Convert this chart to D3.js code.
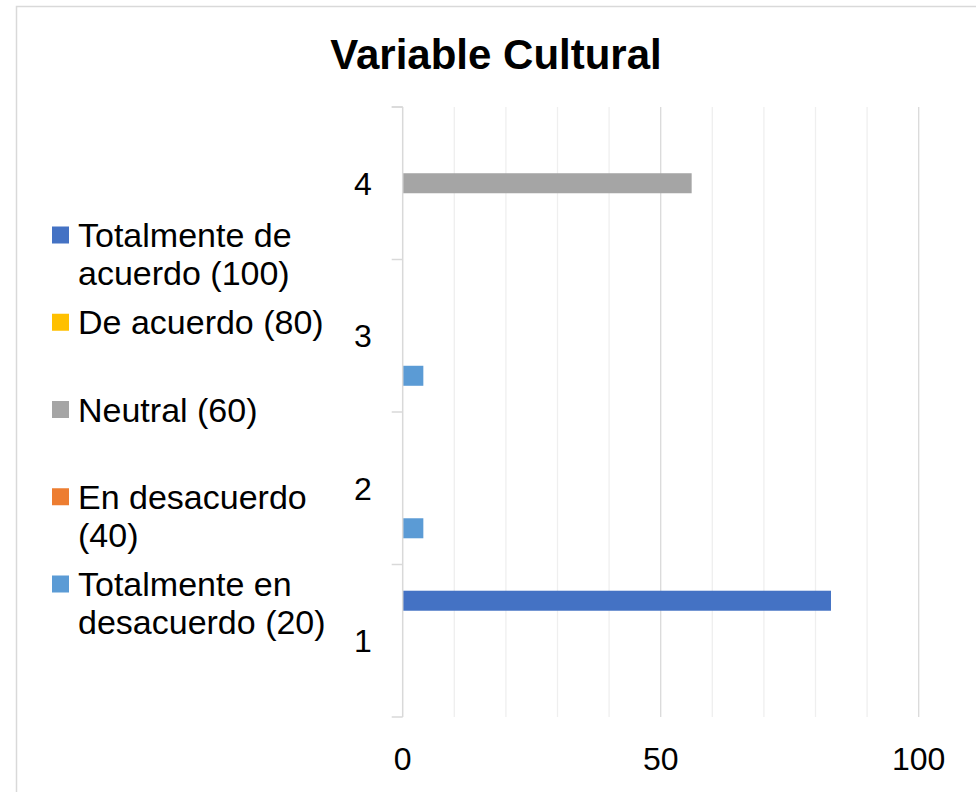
<!DOCTYPE html>
<html>
<head>
<meta charset="utf-8">
<script src="https://cdn.jsdelivr.net/npm/d3@7"></script>
<style>
  body { margin: 0; background: #fff; }
  svg text { font-family: "Liberation Sans", Arial, sans-serif; fill: #000; }
</style>
</head>
<body>
<div id="chart"></div>
<script>
// categorias (eje vertical), de abajo hacia arriba
var categories = ["1", "2", "3", "4"];

// series, en el orden en que aparecen en la leyenda (de arriba a abajo)
var seriesNames = [
  "Totalmente de acuerdo (100)",
  "De acuerdo (80)",
  "Neutral (60)",
  "En desacuerdo (40)",
  "Totalmente en desacuerdo (20)"
];
var seriesColors = ["#4472C4", "#FFC000", "#A5A5A5", "#ED7D31", "#5B9BD5"];

// valores por categoria 1..4
var totalmenteDeAcuerdo = [83, 0, 0, 0];
var deAcuerdo = [0, 0, 0, 0];
var neutral = [0, 0, 0, 56];
var enDesacuerdo = [0, 0, 0, 0];
var totalmenteEnDesacuerdo = [0, 4, 4, 0];

var xTicks = [0, 50, 100];

var seriesValues = [totalmenteDeAcuerdo, deAcuerdo, neutral, enDesacuerdo, totalmenteEnDesacuerdo];

var W = 976, H = 792;
var svg = d3.select("#chart").append("svg")
    .attr("width", W)
    .attr("height", H);

// marco del grafico
svg.append("rect")
    .attr("x", 16.5).attr("y", 6.5)
    .attr("width", W + 10).attr("height", H + 10)
    .attr("fill", "#fff")
    .attr("stroke", "#d9d9d9")
    .attr("stroke-width", 1.5);

svg.append("text")
    .attr("x", 496).attr("y", 69)
    .attr("text-anchor", "middle")
    .style("font-size", "42px")
    .style("font-weight", "bold")
    .text("Variable Cultural");

var x = d3.scaleLinear().domain([0, 100]).range([402.7, 918.7]);
var y = d3.scaleBand().domain(categories.slice().reverse()).range([107, 717]).padding(0);
var ySub = d3.scaleBand().domain(seriesNames).range([0, y.bandwidth()])
    .paddingInner(0).paddingOuter(1.31);

// lineas de division verticales
svg.append("g")
  .selectAll("line")
  .data(d3.range(10, 101, 10))
  .enter().append("line")
    .attr("x1", function(d) { return x(d); })
    .attr("x2", function(d) { return x(d); })
    .attr("y1", y.range()[0])
    .attr("y2", y.range()[1])
    .attr("stroke", function(d) { return d % 50 === 0 ? "#dadada" : "#efefef"; })
    .attr("stroke-width", 1.3);

// barras
var rows = [];
categories.forEach(function(c, i) {
  seriesNames.forEach(function(s, j) {
    rows.push({cat: c, serie: s, value: seriesValues[j][i], color: seriesColors[j]});
  });
});

svg.append("g")
  .selectAll("rect")
  .data(rows.filter(function(d) { return d.value > 0; }))
  .enter().append("rect")
    .attr("x", x(0))
    .attr("y", function(d) { return y(d.cat) + ySub(d.serie); })
    .attr("width", function(d) { return x(d.value) - x(0); })
    .attr("height", ySub.bandwidth())
    .attr("fill", function(d) { return d.color; });

// eje de categorias
var yAxis = svg.append("g")
    .attr("transform", "translate(" + x(0) + ",0)");
yAxis.append("line")
    .attr("x1", 0).attr("x2", 0)
    .attr("y1", y.range()[0]).attr("y2", y.range()[1])
    .attr("stroke", "#d9d9d9").attr("stroke-width", 1.5);
var bounds = categories.map(function(c) { return y(c); }).concat([y.range()[0], y.range()[1]]);
yAxis.selectAll(".tk")
  .data(bounds)
  .enter().append("line")
    .attr("class", "tk")
    .attr("x1", -11).attr("x2", 0)
    .attr("y1", function(d) { return d; })
    .attr("y2", function(d) { return d; })
    .attr("stroke", "#d9d9d9").attr("stroke-width", 1.5);
yAxis.selectAll("text")
  .data(categories)
  .enter().append("text")
    .attr("x", -31)
    .attr("y", function(d) { return y(d) + y.bandwidth() / 2; })
    .attr("dy", "0.36em")
    .attr("text-anchor", "end")
    .style("font-size", "32px")
    .text(function(d) { return d; });

// eje de valores (solo etiquetas)
svg.append("g")
  .selectAll("text")
  .data(xTicks)
  .enter().append("text")
    .attr("x", function(d) { return x(d); })
    .attr("y", 770)
    .attr("text-anchor", "middle")
    .style("font-size", "32px")
    .text(function(d) { return d; });

// leyenda
function wrap(textSel, maxW) {
  textSel.each(function() {
    var t = d3.select(this);
    var words = t.text().split(" ");
    var xPos = t.attr("x");
    t.text(null);
    var line = [];
    var tspan = t.append("tspan").attr("x", xPos).attr("dy", 0);
    words.forEach(function(w) {
      line.push(w);
      tspan.text(line.join(" "));
      if (tspan.node().getComputedTextLength() > maxW && line.length > 1) {
        line.pop();
        tspan.text(line.join(" "));
        line = [w];
        tspan = t.append("tspan").attr("x", xPos).attr("dy", 38).text(w);
      }
    });
  });
}

var legendY = d3.scalePoint().domain(seriesNames).range([235, 584]);
var legend = svg.append("g")
  .selectAll("g")
  .data(seriesNames)
  .enter().append("g")
    .attr("transform", function(d) { return "translate(52," + legendY(d) + ")"; });

legend.append("rect")
    .attr("x", 0).attr("y", -8.5)
    .attr("width", 17).attr("height", 17)
    .attr("fill", function(d, i) { return seriesColors[i]; });

legend.append("text")
    .attr("x", 26)
    .attr("y", 12)
    .style("font-size", "34px")
    .text(function(d) { return d; })
    .call(wrap, 262);
</script>
</body>
</html>
